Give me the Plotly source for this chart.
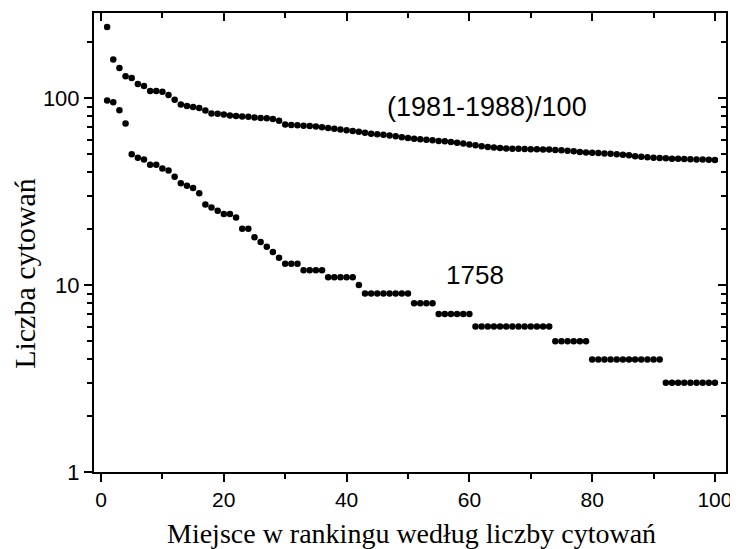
import plotly.graph_objects as go

ranks = list(range(1, 101))

series_1981_1988 = [
    240, 161, 145, 131, 128, 119, 116, 109, 109, 108,
    104, 98, 92.5, 90.6, 89.5, 88.4, 85.9, 82.8, 82.5, 81.8,
    80.8, 80.1, 79.8, 79.4, 78.8, 78.2, 77.9, 77.2, 75.6, 72.3,
    71.7, 71.5, 71.1, 70.8, 70.5, 69.8, 69.2, 68.6, 68.0, 67.3,
    66.6, 66.0, 65.2, 64.5, 64.0, 63.6, 63.0, 62.4, 61.8, 61.2,
    60.6, 60.2, 59.8, 59.4, 59.0, 58.7, 58.2, 57.6, 57.1, 56.5,
    55.9, 55.3, 54.8, 54.4, 54.0, 53.8, 53.6, 53.5, 53.4, 53.3,
    53.2, 53.1, 53.0, 52.8, 52.6, 52.3, 51.9, 51.5, 51.2, 51.0,
    50.8, 50.6, 50.4, 50.1, 49.8, 49.4, 48.9, 48.5, 48.2, 48.0,
    47.8, 47.6, 47.4, 47.3, 47.2, 47.1, 47.0, 46.9, 46.8, 46.7,
]

series_1758 = [
    97, 95, 86, 73, 50, 48, 47, 44, 44, 42,
    41, 38, 35, 34, 33, 31, 27, 26, 25, 24,
    24, 23, 20, 20, 18, 17, 16, 15, 14, 13,
    13, 13, 12, 12, 12, 12, 11, 11, 11, 11,
    11, 10, 9, 9, 9, 9, 9, 9, 9, 9,
    8, 8, 8, 8, 7, 7, 7, 7, 7, 7,
    6, 6, 6, 6, 6, 6, 6, 6, 6, 6,
    6, 6, 6, 5, 5, 5, 5, 5, 5, 4,
    4, 4, 4, 4, 4, 4, 4, 4, 4, 4,
    4, 3, 3, 3, 3, 3, 3, 3, 3, 3,
]

x_tickvals = [0, 20, 40, 60, 80, 100]
label_upper = "(1981-1988)/100"
label_lower = "1758"
x_title = "Miejsce w rankingu według liczby cytowań"
y_title = "Liczba cytowań"

SANS = "Arial, Liberation Sans, sans-serif"
SERIF = "Times New Roman, Liberation Serif, serif"

fig = go.Figure()
marker = dict(color="black", size=6.5, symbol="circle")
fig.add_trace(go.Scatter(x=ranks, y=series_1981_1988, mode="markers",
                         marker=marker, showlegend=False))
fig.add_trace(go.Scatter(x=ranks, y=series_1758, mode="markers",
                         marker=marker, showlegend=False))
# empty helper trace so that the mirrored (top/right) axes are drawn
fig.add_trace(go.Scatter(x=[], y=[], xaxis="x2", yaxis="y2",
                         showlegend=False, hoverinfo="skip"))

xr = [-1.14, 101.8]
yr = [0, 2.455]

fig.update_layout(
    width=738, height=549,
    margin=dict(l=86, r=20, t=5, b=85, autoexpand=False),
    plot_bgcolor="white", paper_bgcolor="white",
    font=dict(family=SANS, color="black"),
    xaxis=dict(
        range=xr, tickvals=x_tickvals, ticks="outside", ticklen=8, tickwidth=1.5,
        tickcolor="black", showline=True, linecolor="black", linewidth=2,
        showgrid=False, zeroline=False, tickfont=dict(size=21, family=SANS),
        automargin=False,
        minor=dict(dtick=10, tick0=0, ticks="outside", ticklen=5, tickwidth=1.5,
                   tickcolor="black", showgrid=False),
    ),
    xaxis2=dict(
        range=xr, overlaying="x", side="top", tickvals=x_tickvals,
        ticks="inside", ticklen=8, tickwidth=1.5, tickcolor="black",
        showticklabels=False, showline=True, linecolor="black", linewidth=2,
        showgrid=False, zeroline=False, automargin=False,
        minor=dict(dtick=10, tick0=0, ticks="inside", ticklen=5, tickwidth=1.5,
                   tickcolor="black", showgrid=False),
    ),
    yaxis=dict(
        type="log", range=yr, dtick=1, ticks="outside", ticklen=8, tickwidth=1.5,
        tickcolor="black", showline=True, linecolor="black", linewidth=2,
        showgrid=False, zeroline=False, tickfont=dict(size=22, family=SANS),
        automargin=False,
        minor=dict(dtick="D1", ticks="outside", ticklen=5, tickwidth=1.5,
                   tickcolor="black", showgrid=False),
    ),
    yaxis2=dict(
        type="log", range=yr, dtick=1, overlaying="y", side="right",
        ticks="inside", ticklen=8, tickwidth=1.5, tickcolor="black",
        showticklabels=False, showline=True, linecolor="black", linewidth=2,
        showgrid=False, zeroline=False, automargin=False,
        minor=dict(dtick="D1", ticks="inside", ticklen=5, tickwidth=1.5,
                   tickcolor="black", showgrid=False),
    ),
    annotations=[
        dict(x=62.9, y=1.953, xref="x", yref="y", text=label_upper,
             showarrow=False, font=dict(size=27, family=SANS)),
        dict(x=60.9, y=1.053, xref="x", yref="y", text=label_lower,
             showarrow=False, font=dict(size=26, family=SANS)),
        dict(x=0.5016, y=-0.133, xref="paper", yref="paper", text=x_title,
             showarrow=False, xanchor="center", yanchor="middle",
             font=dict(size=28, family=SERIF)),
        dict(x=-0.111, y=0.4335, xref="paper", yref="paper", text=y_title,
             showarrow=False, textangle=-90, xanchor="center", yanchor="middle",
             font=dict(size=30, family=SERIF)),
    ],
)

fig.write_html("out.html")
